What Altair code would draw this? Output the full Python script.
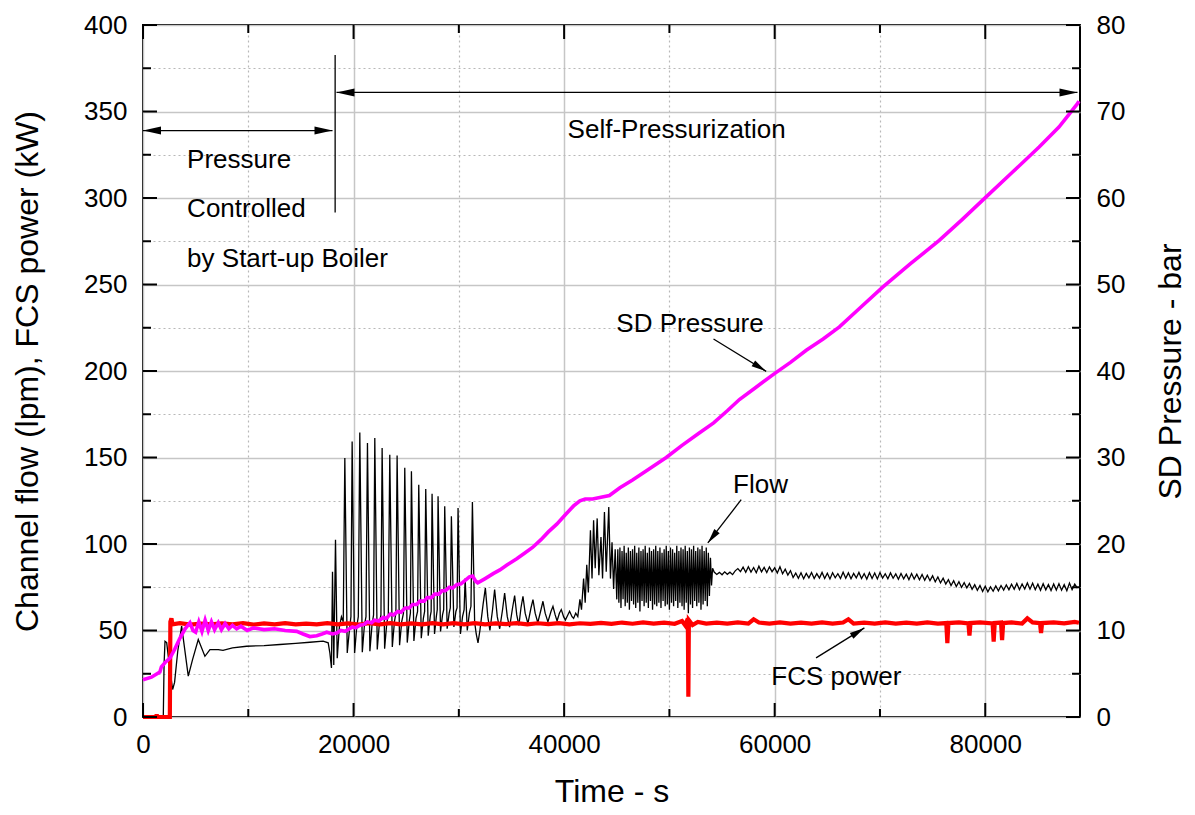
import math
import altair as alt
import pandas as pd

W, H = 937, 692
X_MAX, Y_MAX, P_MAX = 89000, 400, 80
FONT = "Liberation Sans"

X_MAJOR = [0, 20000, 40000, 60000, 80000]
X_MINOR = [10000, 30000, 50000, 70000]
Y_MAJOR = [0, 50, 100, 150, 200, 250, 300, 350, 400]
Y_MINOR = [25, 75, 125, 175, 225, 275, 325, 375]
P_LABELS = [0, 10, 20, 30, 40, 50, 60, 70, 80]
X_TICKS = sorted(X_MAJOR + X_MINOR)
Y_TICKS = sorted(Y_MAJOR + Y_MINOR)

# ---------------- Channel flow (lpm) ----------------
FLOW_T = [
    0, 1700, 1930, 2000, 2090, 2250, 2500, 2815, 3000, 3300, 3670, 3900, 4300, 4700, 5250, 5880, 6360, 7150,
    7600, 8500, 9840, 11500, 13000, 14500, 15850, 17110, 17590, 17750, 17900,
    18000, 18120, 18284, 18450, 18650, 18850, 19020, 19170, 19400, 19600, 19750, 19865, 20100, 20300, 20450,
    20593, 20830, 21030, 21180, 21320, 21550, 21750, 21900, 22017, 22250, 22450, 22600, 22713, 22950, 23150,
    23300, 23440, 23680, 23880, 24020, 24136, 24370, 24570, 24740, 24864, 25100, 25300, 25400, 25496, 25730,
    25930, 26080, 26192, 26430, 26630, 26750, 26856, 27090, 27280, 27370, 27457, 27690, 27860, 27950, 28026,
    28260, 28450, 28560, 28659, 28890, 29080, 29190, 29292, 29530, 29720, 29830, 29925, 30150, 30350, 30500,
    30600, 30800, 31000, 31150, 31288, 31500, 31650, 31820,
    32000, 32300, 32520, 32750, 32950, 33200, 33400, 33650, 33880, 34150, 34350, 34600, 34820, 35100, 35300,
    35500, 35700, 35900, 36090, 36300, 36560, 36850, 37040, 37250, 37500, 37800, 37990, 38200, 38460, 38750,
    38940, 39150, 39330, 39550, 39730, 39950, 40120, 40350, 40520, 40750, 40900, 41100,
    41300, 41500, 41650, 41850, 42000, 42150, 42300, 42500, 42650, 42800, 42950, 43140, 43300, 43500, 43650,
    43830, 44000, 44240, 44400, 44550, 44700, 44850, 45000,
    45100, 45200, 45300, 45400, 45500, 45600, 45700, 45800, 45900, 46000,
    46100, 46200, 46300, 46400, 46500, 46600, 46700, 46800, 46900, 47000,
    47100, 47200, 47300, 47400, 47500, 47600, 47700, 47800, 47900, 48000,
    48100, 48200, 48300, 48400, 48500, 48600, 48700, 48800, 48900, 49000,
    49100, 49200, 49300, 49400, 49500, 49600, 49700, 49800, 49900, 50000,
    50100, 50200, 50300, 50400, 50500, 50600, 50700, 50800, 50900, 51000,
    51100, 51200, 51300, 51400, 51500, 51600, 51700, 51800, 51900, 52000,
    52100, 52200, 52300, 52400, 52500, 52600, 52700, 52800, 52900, 53000,
    53100, 53200, 53300, 53400, 53500, 53600, 53700, 53800, 53900, 54000,
    54100,
    54250, 54500, 54750, 55000, 55250, 55500, 55750, 56000, 56250, 56500,
    56750, 57000, 57250, 57500, 57750, 58000, 58250, 58500, 58750, 59000,
    59250, 59500, 59750, 60000, 60250, 60500, 60750, 61000, 61250, 61500,
    61750, 62000, 62250, 62500, 62750, 63000, 63250, 63500, 63750, 64000,
    64250, 64500, 64750, 65000, 65250, 65500, 65750, 66000, 66250, 66500,
    66750, 67000, 67250, 67500, 67750, 68000, 68250, 68500, 68750, 69000,
    69250, 69500, 69750, 70000, 70250, 70500, 70750, 71000, 71250, 71500,
    71750, 72000, 72250, 72500, 72750, 73000, 73250, 73500, 73750, 74000,
    74250, 74500, 74750, 75000, 75250, 75500, 75750, 76000, 76250, 76500,
    76750, 77000, 77250, 77500, 77750, 78000, 78250, 78500, 78750, 79000,
    79250, 79500, 79750, 80000, 80250, 80500, 80750, 81000, 81250, 81500,
    81750, 82000, 82250, 82500, 82750, 83000, 83250, 83500, 83750, 84000,
    84250, 84500, 84750, 85000, 85250, 85500, 85750, 86000, 86250, 86500,
    86750, 87000, 87250, 87500, 87750, 88000, 88250, 88500, 88750,
]
FLOW_V = [
    0, 0, 1, 30, 43.8, 43, 30, 15.9, 20, 38, 52.5, 42, 23.6, 33, 44.8, 35.1, 39, 39,
    38.5, 40, 40.9, 41.3, 41.9, 42.5, 43.2, 43.8, 42.9, 37, 28.4,
    84, 30, 102.5, 34, 52, 58, 55, 149.7, 37, 50, 58, 159.3, 37, 52, 58,
    164.5, 37.5, 53, 58, 158.4, 38, 53, 59, 161.3, 39, 54, 59, 155.5, 39.5, 54,
    59, 151.6, 40.5, 55, 60, 151.1, 41.5, 55, 60, 144, 43, 56, 60, 142, 44,
    57, 61, 134.3, 45.5, 57, 61, 131.8, 47, 58, 61, 129.1, 48, 58, 62, 127.6,
    49.5, 59, 62, 121.8, 51, 60, 63, 116, 52, 61, 63, 120.8, 48, 58, 62,
    80, 50, 60, 64, 124.3, 55, 48, 42.9,
    50, 65, 74.6, 58, 50, 62, 73.7, 58, 51, 62, 71.7, 58, 52, 63, 70.2,
    59, 53, 63, 69.8, 60, 54, 63, 67.9, 60, 54.5, 62, 66.9, 60, 55, 61,
    64, 59, 55.5, 60, 62.1, 58, 56, 59, 61.1, 58, 57, 60,
    58, 68, 62, 80, 66, 88, 72, 108, 80, 113.7, 86, 114.8, 82, 104, 80,
    118.5, 84, 121.4, 80, 101, 74, 97, 68,
    97, 66, 98, 63, 96, 68, 99, 64, 95, 66,
    98, 62, 96, 67, 97, 65, 99, 63, 95, 66,
    98, 61, 96, 67, 97, 64, 99, 66, 95, 63,
    98, 67, 96, 62, 97, 65, 99, 64, 96, 66,
    98, 63, 95, 67, 97, 64, 99, 65, 96, 62,
    98, 66, 97, 64, 95, 67, 99, 63, 96, 66,
    98, 64, 97, 62, 99, 66, 96, 60, 98, 65,
    97, 63, 99, 67, 96, 64, 98, 66, 97, 62,
    99, 65, 96, 67, 98, 64, 95, 70, 92, 76,
    86,
    83.8, 82.4, 83.6, 82.2, 83.9, 82.5, 83.7, 82.3, 84.5, 85.8,
    84.0, 86.6, 83.6, 86.9, 83.8, 86.4, 83.4, 87.2, 83.9, 86.5,
    83.5, 86.8, 84.0, 86.2, 83.3, 86.9, 82.8, 85.4, 82.0, 84.6,
    80.6, 83.2, 80.2, 83.4, 79.9, 83.0, 80.4, 83.5, 80.0, 82.9,
    80.3, 83.6, 80.1, 83.1, 79.8, 83.4, 80.5, 82.8, 80.0, 83.7,
    80.2, 83.3, 79.9, 83.0, 80.4, 83.6, 80.0, 82.9, 79.7, 83.4,
    80.1, 83.2, 79.8, 83.5, 80.3, 82.8, 79.9, 83.3, 80.2, 82.7,
    79.6, 83.0, 79.9, 82.6, 79.4, 82.9, 79.7, 82.5, 79.3, 82.4,
    79.0, 82.0, 78.8, 81.6, 78.2, 80.9, 77.5, 80.2, 76.8, 79.4,
    76.0, 78.8, 75.4, 78.2, 74.9, 77.6, 74.6, 77.2, 73.8, 76.5,
    73.2, 76.0, 72.6, 75.6, 72.4, 75.2, 72.7, 75.8, 72.9, 76.0,
    73.3, 76.4, 73.5, 76.8, 73.8, 77.2, 73.6, 76.9, 74.0, 77.5,
    73.9, 77.3, 73.6, 76.8, 73.2, 77.0, 73.5, 76.6, 73.1, 76.9,
    73.4, 77.1, 73.3, 76.5, 73.0, 77.4, 73.6, 76.8, 74.5,
]

# ---------------- FCS power (kW) ----------------
POWER_T = [
    0, 1250, 1300, 1350, 2550, 2600, 2700, 2800, 3500, 4500, 5500, 6500, 7500, 8500, 9500, 10500, 11500,
    12500, 13500, 14500, 15500, 16500, 17500, 18500, 19500, 20500, 21500, 22500, 23500, 24500, 25500, 26500,
    27500, 28500, 29500, 30500, 31500, 32500, 33500, 34500, 35500, 36500, 37500, 38500, 39500, 40500, 41500,
    42500, 43500, 44500, 45500, 46500, 47500, 48500, 49500, 50500, 51200, 51500, 51750, 51800, 51850, 52200,
    52700, 53500, 54500, 55500, 56500, 57500, 58000, 58500, 59500, 60500, 61500, 62500, 63500, 64500, 65500,
    66500, 67000, 67500, 68500, 69500, 70500, 71500, 72500, 73500, 74500, 75500, 76300, 76400, 76500, 77500,
    78400, 78500, 78600, 79500, 80700, 80800, 80900, 81500, 81600, 81700, 82500, 83500, 84000, 84500, 85200,
    85300, 85400, 86500, 87500, 88500, 88900,
]
POWER_V = [
    0, 0, 1.5, 0, 0, 55, 57, 53.5, 54.2, 53.4, 54.0, 53.5, 54.1, 53.6, 54.2, 53.4, 54.1,
    53.6, 54.2, 53.5, 54.0, 53.6, 54.3, 53.5, 54.1, 53.4, 54.2, 53.6, 54.3, 53.5, 54.1, 53.6,
    54.3, 53.5, 54.2, 53.6, 54.3, 53.6, 54.1, 53.7, 54.3, 53.6, 54.2, 53.7, 54.3, 53.6, 54.2,
    53.8, 54.4, 53.8, 54.6, 53.9, 54.7, 54.0, 54.6, 53.9, 55.5, 53.0, 57.0, 11.7, 56.0, 53.2,
    55.0, 54.0, 54.6, 54.0, 54.7, 54.0, 56.5, 54.6, 54.0, 54.7, 54.0, 54.6, 54.0, 54.7, 54.0,
    54.6, 56.5, 54.0, 54.6, 54.0, 54.7, 54.0, 54.6, 54.0, 54.7, 54.0, 54.3, 42.7, 54.3, 54.7,
    54.1, 47, 54.3, 54.7, 54.1, 43.5, 54.3, 54.6, 44.4, 54.3, 54.7, 54.0, 57.0, 54.7, 54.2,
    48.5, 54.3, 54.7, 54.1, 55.0, 54.5,
]

# ---------------- SD pressure (bar) ----------------
PRES_T = [
    0, 800, 1600, 1750, 2100, 2560, 3000, 3500, 4000, 4460, 4750, 5000, 5300, 5600, 5900, 6200, 6500, 6800,
    7150, 7450, 7800, 8150, 8500, 8900, 9300, 9900, 10500, 11500, 12500, 13500, 14600, 15200, 15850, 16500,
    17000, 17450, 18000, 18400, 18800, 19200, 19900, 20200, 20600, 21000, 21300, 21700, 22000, 22400, 22800,
    23100, 23500, 23800, 24200, 24500, 24900, 25300, 25600, 26000, 26300, 26700, 27000, 27400, 27700, 28100,
    28400, 28700, 29100, 29400, 29800, 30200, 30600, 31000, 31300, 31600, 31800, 32500, 33300, 33900, 34600,
    35500, 36200, 37000, 37800, 38500, 39300, 40200, 40900, 41500, 42000, 42700, 43500, 44300, 45300, 46500,
    48000, 49700, 51200, 52800, 54200, 55500, 56650, 58200, 59980, 61500, 63000, 64600, 66150, 68200, 70260,
    72900, 75630, 77800, 80060, 82600, 85120, 87000, 88760, 88900,
]
PRES_V = [
    4.3, 4.6, 5.2, 5.8, 6.3, 6.8, 7.8, 9.1, 10.2, 10.9, 10.0, 9.8, 11.0, 9.9, 11.2, 10.0, 11.0, 10.1,
    10.9, 10.1, 10.8, 10.2, 10.6, 10.2, 10.5, 10.0, 10.3, 10.1, 10.2, 10.0, 9.9, 9.6, 9.3, 9.4,
    9.6, 9.8, 9.6, 9.7, 10.0, 9.9, 10.4, 10.3, 10.6, 10.7, 11.0, 10.9, 11.2, 11.1, 11.5,
    11.4, 11.9, 11.8, 12.2, 12.1, 12.6, 12.6, 13.0, 13.0, 13.4, 13.4, 13.8, 13.8, 14.2, 14.2,
    14.6, 14.6, 15.0, 14.9, 15.3, 15.4, 15.8, 16.2, 16.3, 15.7, 15.5, 16.0, 16.6, 17.0, 17.6,
    18.3, 18.9, 19.6, 20.5, 21.4, 22.3, 23.5, 24.4, 25.0, 25.2, 25.2, 25.4, 25.6, 26.5, 27.4,
    28.6, 30.0, 31.4, 32.8, 34.0, 35.4, 36.7, 38.1, 39.7, 41.0, 42.4, 43.7, 45.1, 47.4, 49.7,
    52.4, 55.1, 57.5, 60.1, 63.0, 65.9, 68.2, 70.9, 71.2,
]

# ---------------- annotations ----------------
SEP_T, SEP_V1, SEP_V2 = [18250], [291.6], [382.7]

ARROW_T1 = [0, 18380, 54190, 56820, 63930]
ARROW_V1 = [339, 361, 218.5, 125.6, 34.2]
ARROW_T2 = [18000, 88760, 59190, 53650, 68520]
ARROW_V2 = [339, 361, 199.8, 100.6, 51.5]
ARROW_BOTH = [True, True, False, False, False]

LEFT_TEXT = ["Pressure", "Controlled", "by Start-up Boiler"]
LEFT_T = [4190, 4190, 4190]
LEFT_V = [321.7, 293.4, 264.7]
CENTER_TEXT = ["Self-Pressurization", "SD Pressure", "Flow", "FCS power"]
CENTER_T = [50690, 51960, 58650, 65860]
CENTER_V = [339.4, 227.3, 134.3, 23.4]


def angle_px(t1, v1, t2, v2):
    dx = (t2 - t1) * W / X_MAX
    dy = -(v2 - v1) * H / Y_MAX
    return math.degrees(math.atan2(dy, dx)) % 360


heads = []
for t1, v1, t2, v2, both in zip(ARROW_T1, ARROW_V1, ARROW_T2, ARROW_V2, ARROW_BOTH):
    heads.append({"t": t2, "v": v2, "ang": angle_px(t1, v1, t2, v2), "big": both})
    if both:
        heads.append({"t": t1, "v": v1, "ang": angle_px(t2, v2, t1, v1), "big": both})

flow_df = pd.DataFrame({"t": FLOW_T, "v": FLOW_V})
power_df = pd.DataFrame({"t": POWER_T, "v": POWER_V})
pres_df = pd.DataFrame({"t": PRES_T, "p": PRES_V})
sep_df = pd.DataFrame({"t": SEP_T, "v1": SEP_V1, "v2": SEP_V2})
arrow_df = pd.DataFrame({"t1": ARROW_T1, "v1": ARROW_V1, "t2": ARROW_T2, "v2": ARROW_V2})
head_df = pd.DataFrame(heads)
left_df = pd.DataFrame({"txt": LEFT_TEXT, "t": LEFT_T, "v": LEFT_V})
center_df = pd.DataFrame({"txt": CENTER_TEXT, "t": CENTER_T, "v": CENTER_V})

xs = alt.Scale(domain=[0, X_MAX], nice=False, zero=False)
ys = alt.Scale(domain=[0, Y_MAX], nice=False, zero=False)
ps = alt.Scale(domain=[0, P_MAX], nice=False, zero=False)

MAJ_X = "datum.value % 20000 === 0"
MAJ_Y = "datum.value % 50 === 0"


def cond(test, a, b):
    return {"condition": {"test": test, "value": a}, "value": b}


label_style = dict(labelFont=FONT, labelFontSize=26, labelColor="black", labelOverlap=False,
                   labelFlush=False, labelBound=False, titleFont=FONT, titleFontSize=32,
                   titleFontWeight="normal", titleColor="black", domain=False, ticks=False)

x_main = alt.Axis(orient="bottom", values=X_TICKS, format="d",
                  labelExpr=f"{MAJ_X} ? datum.label : ''", labelPadding=14,
                  grid=True, gridColor=cond(MAJ_X, "#c6c6c6", "#b8b8b8"),
                  gridDash=cond(MAJ_X, [], [2, 3]), gridWidth=cond(MAJ_X, 1.5, 1.2),
                  title="Time - s", titlePadding=19, **label_style)
y_main = alt.Axis(orient="left", values=Y_TICKS, format="d",
                  labelExpr=f"{MAJ_Y} ? datum.label : ''", labelPadding=16,
                  grid=True, gridColor=cond(MAJ_Y, "#c6c6c6", "#b8b8b8"),
                  gridDash=cond(MAJ_Y, [], [2, 3]), gridWidth=cond(MAJ_Y, 1.5, 1.2),
                  title="Channel flow (lpm), FCS power (kW)", titlePadding=39, **label_style)
p_main = alt.Axis(orient="right", values=P_LABELS, format="d", labelPadding=16, grid=False,
                  title="SD Pressure - bar", titleAngle=270, titleBaseline="top", titlePadding=31,
                  **label_style)

# tick lengths in pixels, turned into data units so ticks go through the same scales
PX_X = X_MAX / W
PX_Y = Y_MAX / H


def tick_rules(values, side, length):
    """Inward tick marks on one side of the frame."""
    df = pd.DataFrame({"v": values})
    base = alt.Chart(df).mark_rule(color="black", strokeWidth=2)
    if side in ("bottom", "top"):
        a = 0 if side == "bottom" else Y_MAX
        b = length * PX_Y if side == "bottom" else Y_MAX - length * PX_Y
        return base.transform_calculate(a=f"{a}", b=f"{b}").encode(
            x=alt.X("v:Q", scale=xs, axis=None),
            y=alt.Y("a:Q", scale=ys, axis=None), y2="b:Q")
    a = 0 if side == "left" else X_MAX
    b = length * PX_X if side == "left" else X_MAX - length * PX_X
    return base.transform_calculate(a=f"{a}", b=f"{b}").encode(
        y=alt.Y("v:Q", scale=ys, axis=None),
        x=alt.X("a:Q", scale=xs, axis=None), x2="b:Q")


flow = alt.Chart(flow_df).mark_line(color="black", strokeWidth=1.3).encode(
    x=alt.X("t:Q", scale=xs, axis=x_main),
    y=alt.Y("v:Q", scale=ys, axis=y_main),
)
power = alt.Chart(power_df).mark_line(color="#ff0000", strokeWidth=4.2).encode(
    x=alt.X("t:Q", scale=xs, axis=None),
    y=alt.Y("v:Q", scale=ys, axis=None),
)
sep = alt.Chart(sep_df).mark_rule(color="black", strokeWidth=1.3).encode(
    x=alt.X("t:Q", scale=xs, axis=None),
    y=alt.Y("v1:Q", scale=ys, axis=None),
    y2="v2:Q",
)
pres = alt.Chart(pres_df).mark_line(color="#ff00ff", strokeWidth=3.6).encode(
    x=alt.X("t:Q", scale=xs, axis=None),
    y=alt.Y("p:Q", scale=ps, axis=p_main),
)
arrows = alt.Chart(arrow_df).mark_rule(color="black", strokeWidth=1.3).encode(
    x=alt.X("t1:Q", scale=xs, axis=None), x2="t2:Q",
    y=alt.Y("v1:Q", scale=ys, axis=None), y2="v2:Q",
)
head_shape = "M0,0L-2,-0.45L-2,0.45Z"
arrow_heads = alt.Chart(head_df).mark_point(shape=head_shape, filled=True, color="black", opacity=1,
                                            strokeWidth=0).encode(
    x=alt.X("t:Q", scale=xs, axis=None),
    y=alt.Y("v:Q", scale=ys, axis=None),
    angle=alt.Angle("ang:Q", scale=None),
    size=alt.condition("datum.big", alt.value(324), alt.value(225)),
)
txt_style = dict(font=FONT, fontSize=26, color="black", baseline="middle")
left_txt = alt.Chart(left_df).mark_text(align="left", **txt_style).encode(
    x=alt.X("t:Q", scale=xs, axis=None), y=alt.Y("v:Q", scale=ys, axis=None), text="txt:N")
center_txt = alt.Chart(center_df).mark_text(align="center", **txt_style).encode(
    x=alt.X("t:Q", scale=xs, axis=None), y=alt.Y("v:Q", scale=ys, axis=None), text="txt:N")

ticks = [
    tick_rules(X_MAJOR, "bottom", 14), tick_rules(X_MINOR, "bottom", 8),
    tick_rules(X_MAJOR, "top", 14), tick_rules(X_MINOR, "top", 8),
    tick_rules(Y_MAJOR, "left", 14), tick_rules(Y_MINOR, "left", 8),
    tick_rules(Y_MAJOR, "right", 14), tick_rules(Y_MINOR, "right", 8),
]

chart = alt.layer(flow, power, sep, pres, arrows, arrow_heads, left_txt, center_txt, *ticks).resolve_scale(
    y="independent"
).resolve_axis(x="independent", y="independent").properties(
    width=W, height=H,
    padding={"left": 135, "top": 17, "right": 107, "bottom": 90},
    autosize=alt.AutoSizeParams(type="none"),
    background="white",
).configure_view(stroke="black", strokeWidth=2)

chart.save("out.html", embed_options={"renderer": "svg", "actions": False})
